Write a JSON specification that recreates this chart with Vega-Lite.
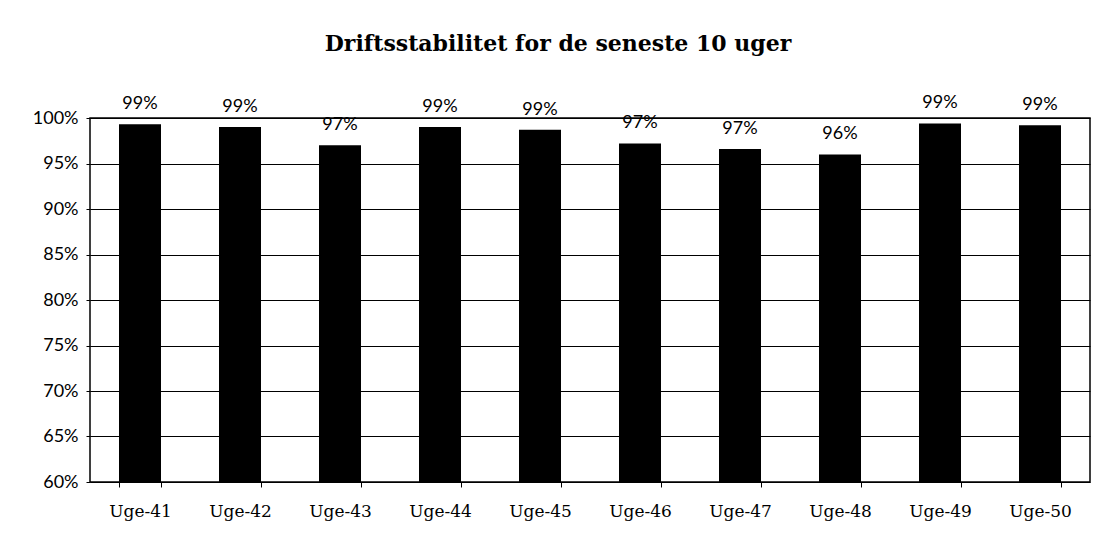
{
  "$schema": "https://vega.github.io/schema/vega-lite/v6.json",
  "autosize": {"type": "none"},
  "padding": {"left": 90, "top": 118, "right": 3, "bottom": 57},
  "width": 1000,
  "height": 364,
  "background": "white",
  "title": {
    "text": "Driftsstabilitet for de seneste 10 uger",
    "font": "DejaVu Serif",
    "fontSize": 22,
    "fontWeight": "bold",
    "color": "black",
    "anchor": "middle",
    "frame": "group",
    "offset": 38,
    "dx": -32
  },
  "data": {
    "values": [
      {"uge": "Uge-41", "stabilitet": 0.993},
      {"uge": "Uge-42", "stabilitet": 0.990},
      {"uge": "Uge-43", "stabilitet": 0.970},
      {"uge": "Uge-44", "stabilitet": 0.990},
      {"uge": "Uge-45", "stabilitet": 0.987},
      {"uge": "Uge-46", "stabilitet": 0.972},
      {"uge": "Uge-47", "stabilitet": 0.966},
      {"uge": "Uge-48", "stabilitet": 0.960},
      {"uge": "Uge-49", "stabilitet": 0.994},
      {"uge": "Uge-50", "stabilitet": 0.992}
    ]
  },
  "encoding": {
    "x": {
      "field": "uge",
      "type": "nominal",
      "sort": null,
      "scale": {"paddingInner": 0.58, "paddingOuter": 0.29},
      "axis": {
        "title": null,
        "labelAngle": 0,
        "labelFont": "DejaVu Serif",
        "labelFontSize": 17,
        "labelColor": "black",
        "labelPadding": 16,
        "ticks": true,
        "tickBand": "extent",
        "tickSize": 5,
        "tickColor": "black",
        "domain": false,
        "grid": false
      }
    },
    "y": {
      "field": "stabilitet",
      "type": "quantitative",
      "scale": {"domain": [0.6, 1.0], "zero": false, "nice": false},
      "axis": {
        "title": null,
        "format": ".0%",
        "values": [0.6, 0.65, 0.7, 0.75, 0.8, 0.85, 0.9, 0.95, 1.0],
        "labelFont": "Lato",
        "labelFontSize": 18,
        "labelColor": "black",
        "labelPadding": 8,
        "tickSize": 4,
        "tickColor": "black",
        "domain": false,
        "grid": true,
        "gridColor": "black",
        "gridOpacity": 1,
        "gridWidth": 1
      }
    }
  },
  "layer": [
    {
      "mark": {"type": "bar", "color": "black"},
      "encoding": {"y2": {"datum": 0.6}}
    },
    {
      "mark": {
        "type": "text",
        "font": "Lato",
        "fontSize": 18,
        "color": "black",
        "baseline": "alphabetic",
        "dy": -15
      },
      "encoding": {
        "text": {"field": "stabilitet", "type": "quantitative", "format": ".0%"}
      }
    }
  ],
  "config": {
    "view": {"stroke": "black", "strokeWidth": 1.5}
  }
}
